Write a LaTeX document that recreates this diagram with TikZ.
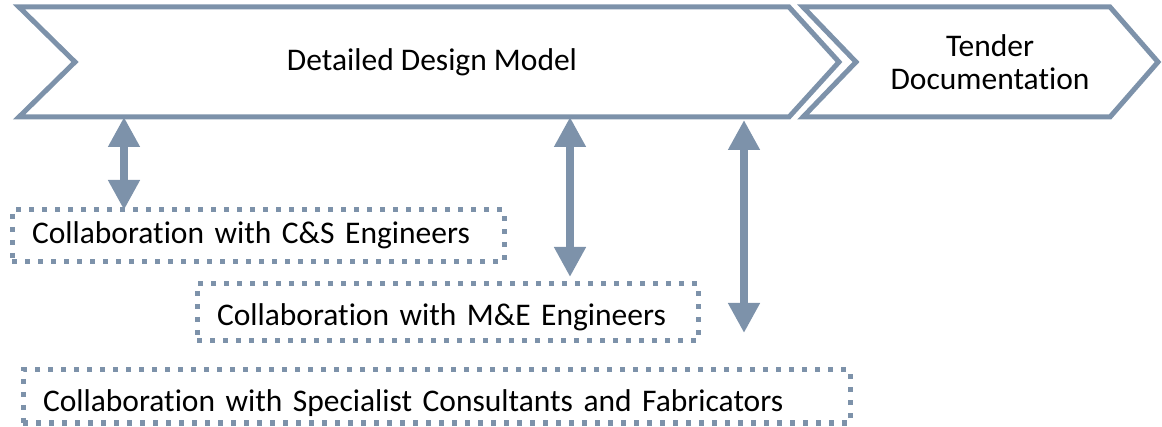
\documentclass[tikz,border=0pt]{standalone}
\usepackage{fontspec}
\setmainfont[Ligatures=NoCommon]{Carlito}
\usetikzlibrary{arrows.meta,calc}
\definecolor{steel}{RGB}{125,146,170}
\begin{document}
\begin{tikzpicture}[x=1pt,y=-1pt,
  chev/.style={draw=steel,line width=5pt,line join=miter,fill=white},
  lbl/.style={font=\fontsize{31.5}{33}\selectfont,text=black},
  collab/.style={draw=steel,line width=5pt,dash pattern=on 5pt off 8pt,inner xsep=20pt,inner ysep=0pt,outer sep=0pt,align=left,font=\fontsize{31.5}{33}\selectfont,anchor=north west},
  dbl/.style={draw=steel,line width=8pt,{Triangle[width=30pt,length=30pt]}-{Triangle[width=30pt,length=30pt]}}]
\useasboundingbox (0,0) rectangle (1162,427);
\draw[chev] (19,7) -- (789,7) -- (839,62) -- (789,117) -- (19,117) -- (75,62) -- cycle;
\draw[chev] (803,7) -- (1110,7) -- (1158,62) -- (1110,117) -- (803,117) -- (856,62) -- cycle;
\node[lbl] (ddm) at (432,62) {Detailed Design Model};
\node[lbl,align=center] (tender) at (990,62) {Tender\\Documentation};
\node[collab,text width=452pt,text height=34pt,text depth=18pt] (cs) at (12,210) {Collaboration with C\&S Engineers};
\node[collab,text width=461pt,text height=42pt,text depth=15pt] (me) at (197,284) {Collaboration with M\&E Engineers};
\node[collab,text width=787pt,text height=41pt,text depth=12pt] (sc) at (23,370) {Collaboration with Specialist Consultants and Fabricators};
\coordinate (a1) at (124,117);
\coordinate (a2) at (570,117);
\coordinate (a3) at (744,120);
\coordinate (a3end) at (744,333);
\draw[dbl] (a1) -- (a1 |- cs.north);
\draw[dbl] (a2) -- ($(a2 |- me.north)+(0,-7)$);
\draw[dbl] (a3) -- (a3end);
\end{tikzpicture}
\end{document}
